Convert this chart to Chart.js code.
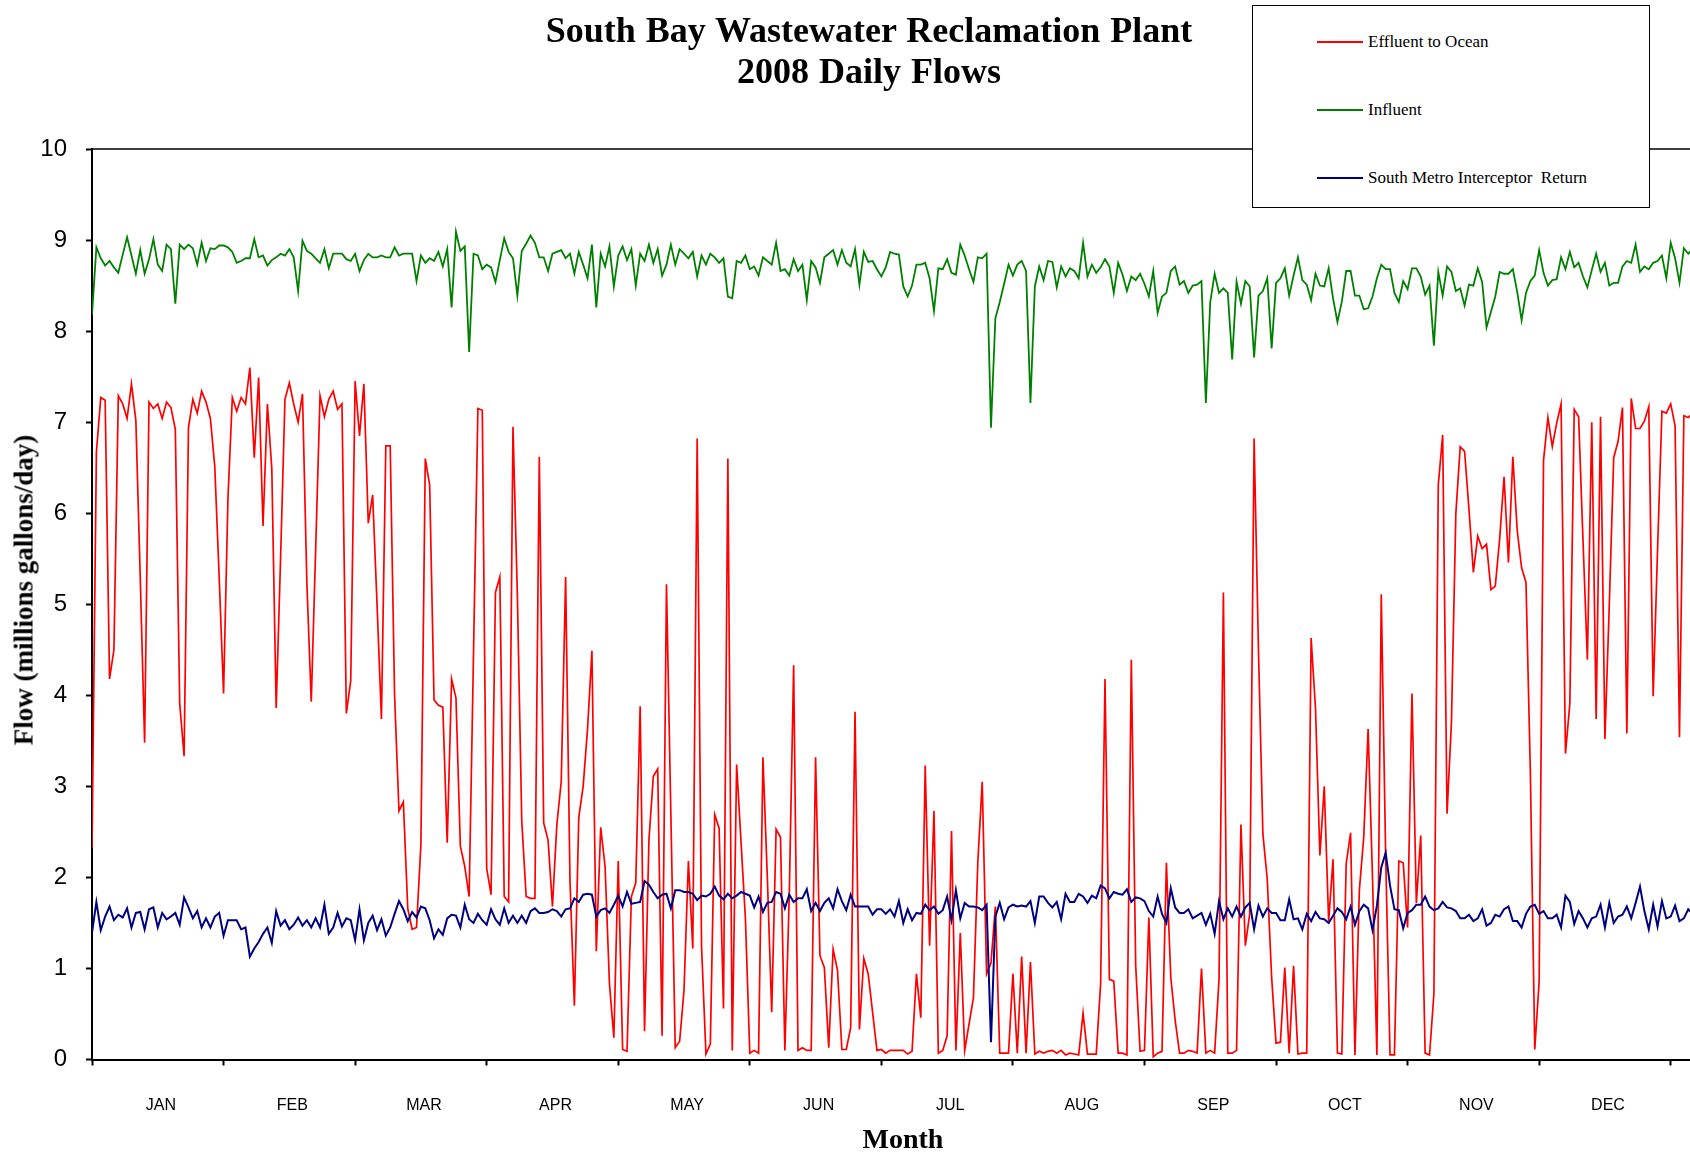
<!DOCTYPE html>
<html>
<head>
<meta charset="utf-8">
<script src="https://cdn.jsdelivr.net/npm/chart.js@4.4.1/dist/chart.umd.min.js"></script>
<style>
  html, body { margin: 0; padding: 0; background: #ffffff; }
  #wrap { position: relative; width: 1690px; height: 1155px; overflow: hidden; background: #fff; }
  #c { position: absolute; left: 0; top: 0; }
  .title { position: absolute; left: 369px; width: 1000px; text-align: center; white-space: nowrap;
           font: bold 36px "Liberation Serif", "Times New Roman", serif; color: #000; line-height: 36px; word-spacing: 1px; }
  #legend { position: absolute; left: 1252px; top: 5px; width: 398px; height: 203px; box-sizing: border-box;
            border: 1.5px solid #000; background: #fff; }
  .sw { position: absolute; left: 64px; width: 46px; height: 0; border-top: 2px solid; }
  .lt { position: absolute; left: 115px; font: 17px "Liberation Serif", "Times New Roman", serif; color: #000;
        white-space: pre; line-height: 20px; }
  #ytitle { position: absolute; left: 24px; top: 590px; transform: translate(-50%, -50%) rotate(-90deg);
            font: bold 27px "Liberation Serif", "Times New Roman", serif; white-space: nowrap; color: #000; }
  #xtitle { position: absolute; left: 903px; top: 1139px; transform: translate(-50%, -50%);
            font: bold 28px "Liberation Serif", "Times New Roman", serif; white-space: nowrap; color: #000; }
</style>
</head>
<body>
<div id="wrap">
  <canvas id="c" width="1690" height="1155"></canvas>
  <div class="title" style="top:12px;">South Bay Wastewater Reclamation Plant</div>
  <div class="title" style="top:53px;">2008 Daily Flows</div>
  <div id="legend"></div>
  <div id="ytitle">Flow (millions gallons/day)</div>
  <div id="xtitle">Month</div>
</div>
<script>
// ---- data (one value per day, Jan 1 2008 onward) ----
const effluent = [
2.32,6.67,7.27,7.24,4.18,4.5,7.29,7.2,7.04,7.42,
7.02,5.3,3.48,7.22,7.15,7.2,7.04,7.22,7.16,6.92,
3.91,3.33,6.94,7.25,7.1,7.34,7.22,7.04,6.51,5.3,
4.02,6.16,7.27,7.12,7.27,7.2,7.6,6.61,7.49,5.86,
7.2,6.49,3.86,5.5,7.25,7.43,7.2,7.0,7.31,5.23,
3.93,5.6,7.29,7.06,7.25,7.34,7.14,7.2,3.8,4.16,
7.45,6.85,7.42,5.89,6.2,5.0,3.74,6.74,6.74,4.0,
2.73,2.83,1.66,1.43,1.45,2.36,6.6,6.31,3.95,3.89,
3.87,2.38,4.18,3.97,2.34,2.12,1.79,4.47,7.15,7.13,
2.1,1.81,5.13,5.3,1.79,1.73,6.95,5.1,2.62,1.79,
1.77,1.77,6.62,2.6,2.41,1.68,2.58,3.05,5.3,1.96,
0.59,2.66,3.0,3.63,4.49,1.19,2.55,2.12,0.83,0.24,
2.18,0.11,0.09,1.79,1.94,3.88,0.31,2.41,3.11,3.19,
0.26,5.22,2.7,0.13,0.2,0.76,2.18,1.22,6.82,1.24,
0.06,0.17,2.69,2.54,0.56,6.6,0.1,3.24,2.39,1.55,
0.07,0.1,0.07,3.32,2.0,0.52,2.53,2.44,0.1,1.8,
4.33,0.1,0.13,0.1,0.1,3.32,1.14,1.01,0.13,1.21,
0.98,0.11,0.11,0.35,3.82,0.33,1.11,0.94,0.52,0.1,
0.11,0.07,0.1,0.1,0.1,0.1,0.06,0.09,0.94,0.46,
3.23,1.25,2.73,0.07,0.1,0.26,2.51,0.1,1.39,0.1,
0.39,0.68,2.17,3.05,0.94,1.06,1.68,0.07,0.07,0.07,
0.94,0.07,1.13,0.07,1.07,0.06,0.09,0.07,0.09,0.1,
0.07,0.1,0.05,0.07,0.06,0.05,0.51,0.06,0.06,0.06,
0.83,4.18,0.88,0.86,0.07,0.07,0.05,4.39,1.03,0.09,
0.1,1.56,0.03,0.07,0.09,2.16,0.9,0.43,0.07,0.07,
0.1,0.09,0.07,1.0,0.07,0.1,0.07,0.88,5.13,0.07,
0.07,0.1,2.58,1.25,1.6,6.82,4.49,2.48,1.98,0.9,
0.18,0.19,1.01,0.07,1.03,0.06,0.07,0.07,4.63,3.86,
2.24,3.0,1.52,2.2,0.07,0.06,2.15,2.49,0.05,1.86,
2.44,3.63,2.0,0.05,5.11,2.24,0.05,0.05,2.18,2.16,
1.45,4.02,1.72,2.46,0.07,0.05,0.72,6.31,6.86,2.7,
3.7,5.99,6.73,6.68,6.04,5.35,5.75,5.61,5.66,5.16,
5.2,5.72,6.4,5.46,6.62,5.81,5.4,5.24,3.15,0.11,
0.86,6.58,7.05,6.73,6.99,7.2,3.36,3.91,7.14,7.06,
5.7,4.39,7.0,3.74,7.06,3.52,5.0,6.61,6.79,7.16,
3.58,7.26,6.93,6.93,7.01,7.17,3.99,5.6,7.12,7.1,
7.2,6.96,3.54,7.07,7.05,7.1
];
const influent = [
8.18,8.92,8.8,8.72,8.77,8.7,8.64,8.84,9.03,8.83,
8.63,8.89,8.63,8.79,9.01,8.73,8.66,8.95,8.9,8.3,
8.95,8.9,8.95,8.91,8.73,8.97,8.77,8.91,8.9,8.94,
8.94,8.92,8.87,8.75,8.77,8.8,8.8,9.01,8.81,8.83,
8.72,8.78,8.81,8.85,8.83,8.9,8.81,8.44,8.99,8.88,
8.85,8.8,8.75,8.9,8.69,8.85,8.85,8.85,8.79,8.77,
8.85,8.66,8.78,8.85,8.81,8.81,8.83,8.81,8.81,8.92,
8.83,8.85,8.85,8.85,8.55,8.83,8.75,8.8,8.77,8.87,
8.71,8.9,8.26,9.09,8.88,8.93,7.77,8.85,8.83,8.68,
8.73,8.7,8.54,8.78,9.02,8.87,8.8,8.39,8.88,8.96,
9.05,8.97,8.81,8.81,8.66,8.85,8.87,8.89,8.8,8.85,
8.63,8.87,8.73,8.58,8.95,8.26,8.85,8.71,8.93,8.49,
8.83,8.93,8.78,8.9,8.5,8.85,8.77,8.95,8.75,8.9,
8.61,8.73,8.95,8.73,8.9,8.85,8.8,8.87,8.6,8.83,
8.73,8.85,8.81,8.75,8.8,8.38,8.36,8.77,8.75,8.83,
8.68,8.71,8.61,8.81,8.77,8.73,8.97,8.66,8.68,8.61,
8.79,8.66,8.73,8.34,8.77,8.7,8.53,8.81,8.85,8.89,
8.73,8.89,8.75,8.71,8.9,8.51,8.87,8.76,8.77,8.68,
8.6,8.7,8.87,8.85,8.84,8.49,8.38,8.5,8.73,8.73,
8.75,8.58,8.22,8.69,8.68,8.79,8.64,8.62,8.95,8.83,
8.68,8.54,8.81,8.8,8.85,6.94,8.14,8.32,8.52,8.73,
8.61,8.73,8.77,8.66,7.21,8.49,8.71,8.56,8.77,8.76,
8.48,8.71,8.6,8.69,8.66,8.58,8.97,8.6,8.73,8.64,
8.7,8.79,8.71,8.42,8.75,8.62,8.44,8.6,8.56,8.63,
8.52,8.38,8.66,8.2,8.38,8.42,8.66,8.71,8.51,8.55,
8.42,8.5,8.51,8.55,7.21,8.32,8.63,8.42,8.47,8.42,
7.69,8.54,8.3,8.55,8.49,7.71,8.39,8.44,8.58,7.81,
8.53,8.58,8.69,8.39,8.61,8.81,8.56,8.51,8.34,8.63,
8.5,8.49,8.69,8.36,8.1,8.32,8.66,8.66,8.39,8.39,
8.24,8.25,8.38,8.58,8.73,8.68,8.68,8.42,8.32,8.55,
8.46,8.69,8.69,8.6,8.4,8.5,7.84,8.65,8.39,8.71,
8.65,8.44,8.47,8.28,8.51,8.5,8.69,8.54,8.04,8.21,
8.38,8.65,8.63,8.63,8.68,8.43,8.12,8.42,8.55,8.61,
8.89,8.64,8.5,8.56,8.57,8.81,8.68,8.87,8.7,8.75,
8.6,8.48,8.67,8.85,8.65,8.75,8.5,8.53,8.53,8.71,
8.77,8.75,8.95,8.65,8.71,8.68,8.75,8.77,8.83,8.58,
8.97,8.8,8.53,8.91,8.85,8.9
];
const smiReturn = [
1.39,1.73,1.42,1.57,1.68,1.53,1.59,1.56,1.66,1.45,
1.61,1.62,1.43,1.65,1.67,1.45,1.61,1.54,1.57,1.61,
1.48,1.78,1.67,1.55,1.63,1.45,1.55,1.45,1.57,1.61,
1.36,1.53,1.53,1.53,1.43,1.45,1.13,1.22,1.29,1.38,
1.45,1.28,1.63,1.47,1.53,1.43,1.48,1.56,1.47,1.53,
1.45,1.55,1.45,1.7,1.38,1.45,1.61,1.46,1.55,1.53,
1.31,1.65,1.31,1.5,1.58,1.42,1.54,1.36,1.45,1.6,
1.74,1.65,1.52,1.62,1.56,1.68,1.66,1.53,1.33,1.43,
1.37,1.55,1.59,1.58,1.45,1.7,1.54,1.5,1.6,1.53,
1.48,1.65,1.54,1.48,1.66,1.5,1.58,1.5,1.58,1.5,
1.63,1.66,1.61,1.61,1.62,1.65,1.63,1.57,1.65,1.66,
1.77,1.73,1.81,1.82,1.81,1.57,1.64,1.66,1.61,1.7,
1.8,1.68,1.84,1.71,1.72,1.73,1.96,1.92,1.84,1.77,
1.81,1.82,1.66,1.86,1.86,1.84,1.84,1.82,1.75,1.8,
1.79,1.82,1.9,1.8,1.76,1.82,1.77,1.8,1.84,1.82,
1.8,1.67,1.79,1.62,1.72,1.73,1.84,1.82,1.66,1.81,
1.73,1.77,1.77,1.87,1.63,1.72,1.63,1.72,1.77,1.66,
1.87,1.74,1.64,1.81,1.68,1.68,1.68,1.68,1.59,1.65,
1.65,1.6,1.65,1.57,1.74,1.5,1.65,1.53,1.61,1.6,
1.7,1.64,1.68,1.6,1.64,1.79,1.53,1.86,1.55,1.72,
1.68,1.68,1.67,1.64,1.7,0.19,1.57,1.72,1.54,1.67,
1.7,1.68,1.69,1.68,1.74,1.5,1.79,1.79,1.72,1.67,
1.73,1.54,1.82,1.73,1.73,1.82,1.79,1.72,1.8,1.77,
1.91,1.88,1.77,1.84,1.82,1.81,1.87,1.73,1.78,1.77,
1.74,1.63,1.57,1.79,1.6,1.5,1.88,1.67,1.61,1.61,
1.65,1.55,1.58,1.61,1.48,1.6,1.38,1.74,1.54,1.66,
1.57,1.68,1.57,1.67,1.72,1.43,1.69,1.57,1.66,1.61,
1.61,1.53,1.53,1.76,1.54,1.55,1.43,1.6,1.52,1.62,
1.55,1.54,1.5,1.58,1.66,1.62,1.54,1.68,1.48,1.63,
1.7,1.66,1.42,1.69,2.11,2.27,1.91,1.65,1.64,1.44,
1.61,1.64,1.7,1.7,1.79,1.68,1.64,1.66,1.73,1.67,
1.66,1.63,1.55,1.55,1.59,1.52,1.55,1.65,1.47,1.5,
1.59,1.57,1.65,1.68,1.52,1.52,1.45,1.6,1.68,1.7,
1.6,1.63,1.55,1.55,1.59,1.45,1.8,1.73,1.49,1.63,
1.55,1.45,1.55,1.57,1.7,1.45,1.72,1.5,1.57,1.59,
1.68,1.55,1.72,1.9,1.63,1.43,1.7,1.46,1.74,1.55,
1.57,1.69,1.52,1.55,1.65,1.6
];
const seriesNames = ['Effluent to Ocean', 'Influent', 'South Metro Interceptor  Return'];
const seriesColors = ['#FF0000', '#008000', '#000080'];
const monthLabels = ['JAN','FEB','MAR','APR','MAY','JUN','JUL','AUG','SEP','OCT','NOV','DEC'];
const monthTickDays = [0,30,60,90,120,150,180,210,240,270,300,330,360];
const monthLabelDays = [15.7,45.7,75.7,105.7,135.7,165.7,195.7,225.7,255.7,285.7,315.7,345.7];
const yTicks = [0,1,2,3,4,5,6,7,8,9,10];

// day index categories
const dayIndex = effluent.map((_, i) => i);

// ---- HTML legend ----
const legendEl = document.getElementById('legend');
[36, 104, 172].forEach((yy, i) => {
  const sw = document.createElement('div');
  sw.className = 'sw';
  sw.style.top = (yy - 1) + 'px';
  sw.style.borderTopColor = seriesColors[i];
  legendEl.appendChild(sw);
  const t = document.createElement('div');
  t.className = 'lt';
  t.style.top = (yy - 10) + 'px';
  t.textContent = seriesNames[i];
  legendEl.appendChild(t);
});

const topBorder = {
  id: 'topBorder',
  beforeDatasetsDraw(chart) {
    const { ctx, chartArea: a } = chart;
    ctx.save();
    ctx.strokeStyle = '#000';
    ctx.lineWidth = 1.5;
    ctx.beginPath();
    ctx.moveTo(a.left, a.top);
    ctx.lineTo(a.right, a.top);
    ctx.stroke();
    ctx.restore();
  }
};

const allXTicks = monthTickDays.concat(monthLabelDays).sort((a, b) => a - b);

new Chart(document.getElementById('c'), {
  type: 'line',
  data: {
    labels: dayIndex,
    datasets: [
      { label: seriesNames[0], data: effluent, borderColor: seriesColors[0], borderWidth: 1.7, pointRadius: 0, tension: 0, fill: false, order: 3 },
      { label: seriesNames[1], data: influent, borderColor: seriesColors[1], borderWidth: 1.8, pointRadius: 0, tension: 0, fill: false, order: 2 },
      { label: seriesNames[2], data: smiReturn, borderColor: seriesColors[2], borderWidth: 2, pointRadius: 0, tension: 0, fill: false, order: 1 }
    ]
  },
  options: {
    responsive: false,
    animation: false,
    devicePixelRatio: 1,
    layout: { padding: { top: 149, left: 0, right: 0, bottom: 0 } },
    plugins: { legend: { display: false }, title: { display: false }, tooltip: { enabled: false } },
    scales: {
      x: {
        type: 'linear', min: 0, max: 364.4,
        afterBuildTicks: ax => { ax.ticks = allXTicks.map(v => ({ value: v })); },
        afterFit: ax => { ax.height = 95.5; ax.paddingLeft = 0; ax.paddingRight = 0; },
        ticks: {
          autoSkip: false, maxRotation: 0, minRotation: 0, padding: 30, color: '#000',
          font: { family: '"Liberation Sans", Arial, sans-serif', size: 16 },
          callback: v => { const k = monthLabelDays.indexOf(v); return k >= 0 ? monthLabels[k] : ''; }
        },
        grid: {
          display: true, drawOnChartArea: false, drawTicks: true, tickLength: 6, tickWidth: 2,
          tickColor: c => (c.tick && monthTickDays.indexOf(c.tick.value) >= 0 ? '#000' : 'rgba(0,0,0,0)')
        },
        border: { display: true, color: '#000', width: 2 }
      },
      y: {
        min: 0, max: 10,
        afterBuildTicks: ax => { ax.ticks = yTicks.map(v => ({ value: v })); },
        afterFit: ax => { ax.width = 92; },
        ticks: { padding: 19, color: '#000', font: { family: '"Liberation Sans", Arial, sans-serif', size: 24 } },
        grid: { display: true, drawOnChartArea: false, drawTicks: true, tickLength: 6, tickWidth: 2, tickColor: '#000' },
        border: { display: true, color: '#000', width: 2 }
      }
    }
  },
  plugins: [topBorder]
});
</script>
</body>
</html>
